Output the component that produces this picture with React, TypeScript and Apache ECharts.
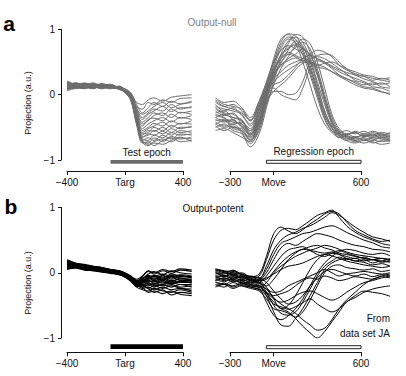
import React, { useEffect, useRef } from "react";
import * as echarts from "echarts";

// ---------- data ----------
const tTest = [-400, -340, -280, -220, -160, -100, -40, 0, 40, 80, 120, 160, 200, 260, 320, 380, 460];
const tMove = [-400, -340, -280, -220, -160, -100, -50, 0, 50, 100, 150, 200, 250, 300, 350, 400, 450, 500, 560, 620, 680, 740, 800];

const testTicks = [-400, 0, 400];
const testTickLabels = ["\u2212400", "Targ", "400"];
const moveTicks = [-300, 0, 600];
const moveTickLabels = ["\u2212300", "Move", "600"];
const yTicks = [-1, 0, 1];
const yTickLabels = ["\u22121", "0", "1"];

const testEpoch = [-100, 400];
const regressionEpoch = [-50, 600];

const nullTest = [
  [0.15, 0.12, 0.16, 0.13, 0.15, 0.12, 0.10, 0.08, 0.02, -0.12, -0.15, -0.08, -0.05, -0.10, -0.04, -0.02, 0.00],
  [0.10, 0.14, 0.11, 0.15, 0.12, 0.14, 0.11, 0.07, 0.00, -0.18, -0.22, -0.12, -0.15, -0.08, -0.12, -0.06, -0.05],
  [0.20, 0.16, 0.18, 0.14, 0.17, 0.13, 0.12, 0.09, 0.03, -0.15, -0.28, -0.20, -0.12, -0.18, -0.10, -0.14, -0.10],
  [0.08, 0.12, 0.09, 0.12, 0.10, 0.15, 0.10, 0.06, -0.02, -0.22, -0.30, -0.25, -0.18, -0.12, -0.20, -0.15, -0.12],
  [0.18, 0.13, 0.15, 0.18, 0.13, 0.11, 0.13, 0.08, 0.01, -0.20, -0.35, -0.28, -0.22, -0.25, -0.15, -0.22, -0.18],
  [0.12, 0.18, 0.13, 0.10, 0.14, 0.16, 0.09, 0.05, -0.03, -0.25, -0.38, -0.30, -0.25, -0.18, -0.26, -0.20, -0.20],
  [0.06, 0.10, 0.14, 0.11, 0.16, 0.12, 0.12, 0.07, 0.00, -0.28, -0.42, -0.35, -0.28, -0.32, -0.22, -0.28, -0.25],
  [0.16, 0.11, 0.10, 0.15, 0.11, 0.14, 0.10, 0.06, -0.01, -0.22, -0.45, -0.40, -0.32, -0.28, -0.35, -0.27, -0.30],
  [0.13, 0.16, 0.12, 0.09, 0.13, 0.10, 0.11, 0.05, -0.04, -0.30, -0.48, -0.38, -0.36, -0.40, -0.30, -0.36, -0.32],
  [0.09, 0.13, 0.17, 0.13, 0.09, 0.13, 0.08, 0.04, -0.05, -0.32, -0.52, -0.45, -0.40, -0.35, -0.42, -0.35, -0.38],
  [0.19, 0.15, 0.12, 0.16, 0.14, 0.10, 0.12, 0.07, -0.02, -0.30, -0.55, -0.50, -0.44, -0.48, -0.40, -0.45, -0.40],
  [0.11, 0.09, 0.13, 0.12, 0.15, 0.13, 0.09, 0.05, -0.06, -0.35, -0.58, -0.52, -0.48, -0.42, -0.50, -0.44, -0.45],
  [0.14, 0.17, 0.14, 0.11, 0.12, 0.15, 0.10, 0.06, -0.03, -0.33, -0.60, -0.58, -0.50, -0.55, -0.47, -0.52, -0.48],
  [0.07, 0.11, 0.10, 0.14, 0.10, 0.11, 0.13, 0.06, -0.05, -0.38, -0.62, -0.55, -0.56, -0.50, -0.58, -0.50, -0.50],
  [0.17, 0.14, 0.16, 0.12, 0.16, 0.12, 0.08, 0.04, -0.07, -0.36, -0.64, -0.62, -0.55, -0.60, -0.52, -0.58, -0.55],
  [0.12, 0.10, 0.11, 0.17, 0.12, 0.09, 0.11, 0.05, -0.04, -0.40, -0.66, -0.60, -0.62, -0.56, -0.62, -0.55, -0.58],
  [0.15, 0.18, 0.13, 0.10, 0.14, 0.13, 0.10, 0.04, -0.06, -0.42, -0.68, -0.70, -0.62, -0.66, -0.58, -0.62, -0.60],
  [0.10, 0.12, 0.15, 0.13, 0.11, 0.14, 0.09, 0.03, -0.08, -0.44, -0.70, -0.66, -0.70, -0.62, -0.68, -0.60, -0.62],
  [0.21, 0.15, 0.12, 0.14, 0.13, 0.11, 0.12, 0.05, -0.05, -0.40, -0.72, -0.74, -0.66, -0.72, -0.64, -0.68, -0.65],
  [0.09, 0.14, 0.12, 0.11, 0.15, 0.12, 0.10, 0.04, -0.07, -0.45, -0.70, -0.76, -0.72, -0.68, -0.72, -0.66, -0.68],
  [0.14, 0.11, 0.17, 0.15, 0.12, 0.10, 0.09, 0.03, -0.09, -0.46, -0.74, -0.72, -0.78, -0.70, -0.66, -0.72, -0.70],
  [0.18, 0.13, 0.10, 0.12, 0.10, 0.13, 0.11, 0.06, -0.06, -0.42, -0.73, -0.78, -0.74, -0.76, -0.70, -0.65, -0.72],
];

const nullMove = [
  [-0.35, -0.40, -0.38, -0.50, -0.60, -0.30, 0.10, 0.50, 0.80, 0.93, 0.90, 0.70, 0.35, 0.00, -0.35, -0.55, -0.62, -0.60, -0.65, -0.62, -0.66, -0.62, -0.65],
  [-0.20, -0.28, -0.30, -0.40, -0.52, -0.20, 0.15, 0.55, 0.85, 0.92, 0.78, 0.50, 0.15, -0.20, -0.45, -0.58, -0.65, -0.62, -0.58, -0.64, -0.60, -0.66, -0.62],
  [-0.45, -0.50, -0.48, -0.58, -0.75, -0.50, -0.10, 0.30, 0.62, 0.82, 0.88, 0.80, 0.55, 0.20, -0.15, -0.45, -0.62, -0.68, -0.64, -0.70, -0.66, -0.68, -0.72],
  [-0.30, -0.35, -0.45, -0.42, -0.65, -0.40, 0.00, 0.40, 0.70, 0.85, 0.80, 0.60, 0.30, -0.05, -0.38, -0.56, -0.60, -0.66, -0.70, -0.65, -0.62, -0.66, -0.64],
  [-0.50, -0.45, -0.55, -0.60, -0.80, -0.60, -0.20, 0.20, 0.55, 0.78, 0.92, 0.88, 0.65, 0.30, -0.05, -0.40, -0.58, -0.66, -0.72, -0.68, -0.74, -0.70, -0.68],
  [-0.15, -0.25, -0.20, -0.32, -0.45, -0.15, 0.20, 0.50, 0.68, 0.75, 0.70, 0.62, 0.40, 0.05, -0.30, -0.52, -0.58, -0.55, -0.60, -0.56, -0.62, -0.58, -0.60],
  [-0.40, -0.38, -0.50, -0.52, -0.70, -0.45, -0.05, 0.35, 0.60, 0.70, 0.78, 0.72, 0.50, 0.15, -0.25, -0.50, -0.64, -0.70, -0.66, -0.62, -0.68, -0.72, -0.70],
  [-0.25, -0.32, -0.28, -0.45, -0.55, -0.25, 0.05, 0.30, 0.50, 0.62, 0.72, 0.80, 0.70, 0.40, 0.00, -0.35, -0.55, -0.62, -0.66, -0.60, -0.64, -0.60, -0.66],
  [-0.55, -0.52, -0.58, -0.65, -0.72, -0.55, -0.15, 0.15, 0.40, 0.58, 0.75, 0.85, 0.78, 0.50, 0.10, -0.30, -0.52, -0.60, -0.58, -0.64, -0.58, -0.62, -0.58],
  [-0.10, -0.18, -0.22, -0.28, -0.40, -0.10, 0.18, 0.40, 0.55, 0.65, 0.60, 0.55, 0.52, 0.30, -0.10, -0.42, -0.60, -0.64, -0.68, -0.66, -0.70, -0.64, -0.68],
  [-0.38, -0.42, -0.40, -0.48, -0.62, -0.35, 0.02, 0.28, 0.45, 0.55, 0.62, 0.70, 0.60, 0.35, -0.05, -0.40, -0.58, -0.70, -0.74, -0.70, -0.72, -0.76, -0.74],
  [-0.48, -0.55, -0.50, -0.55, -0.68, -0.42, -0.05, 0.25, 0.48, 0.68, 0.82, 0.75, 0.45, 0.10, -0.25, -0.48, -0.56, -0.62, -0.56, -0.60, -0.56, -0.60, -0.62],
  [-0.22, -0.30, -0.35, -0.38, -0.58, -0.30, 0.08, 0.45, 0.75, 0.88, 0.85, 0.65, 0.40, 0.05, -0.32, -0.50, -0.66, -0.64, -0.70, -0.74, -0.70, -0.66, -0.70],
  [-0.05, -0.12, -0.10, -0.20, -0.35, -0.10, 0.10, 0.25, 0.35, 0.45, 0.50, 0.55, 0.62, 0.68, 0.65, 0.58, 0.45, 0.38, 0.32, 0.28, 0.25, 0.22, 0.20],
  [-0.28, -0.25, -0.35, -0.40, -0.55, -0.30, 0.00, 0.15, 0.20, 0.30, 0.42, 0.55, 0.60, 0.55, 0.50, 0.42, 0.35, 0.30, 0.25, 0.20, 0.15, 0.18, 0.12],
  [-0.42, -0.48, -0.45, -0.55, -0.65, -0.45, -0.10, 0.05, 0.05, 0.00, 0.02, 0.20, 0.50, 0.58, 0.55, 0.48, 0.40, 0.32, 0.22, 0.18, 0.12, 0.10, 0.05],
  [-0.12, -0.18, -0.15, -0.25, -0.38, -0.18, 0.08, 0.30, 0.45, 0.52, 0.56, 0.52, 0.50, 0.45, 0.48, 0.50, 0.45, 0.40, 0.30, 0.28, 0.22, 0.25, 0.22],
  [-0.32, -0.36, -0.42, -0.45, -0.60, -0.38, -0.05, 0.10, 0.00, -0.05, -0.08, 0.10, 0.40, 0.52, 0.48, 0.40, 0.30, 0.25, 0.18, 0.12, 0.10, 0.05, 0.00],
  [-0.18, -0.22, -0.25, -0.30, -0.48, -0.22, 0.05, 0.35, 0.55, 0.62, 0.58, 0.52, 0.55, 0.60, 0.62, 0.60, 0.50, 0.40, 0.35, 0.30, 0.28, 0.24, 0.26],
  [-0.35, -0.30, -0.38, -0.48, -0.62, -0.40, -0.02, 0.20, 0.30, 0.38, 0.45, 0.50, 0.48, 0.42, 0.40, 0.35, 0.30, 0.24, 0.20, 0.15, 0.18, 0.12, 0.10],
  [-0.08, -0.15, -0.18, -0.22, -0.40, -0.15, 0.12, 0.38, 0.60, 0.72, 0.75, 0.70, 0.62, 0.55, 0.50, 0.44, 0.38, 0.34, 0.30, 0.24, 0.20, 0.16, 0.18],
  [-0.45, -0.40, -0.52, -0.56, -0.70, -0.50, -0.12, 0.05, 0.15, 0.25, 0.38, 0.48, 0.50, 0.46, 0.42, 0.35, 0.28, 0.22, 0.15, 0.10, 0.08, 0.04, 0.02],
];

const potentTest = [
  [0.15, 0.12, 0.10, 0.08, 0.06, 0.04, 0.02, -0.02, -0.06, -0.10, -0.05, 0.02, -0.02, 0.03, -0.01, 0.04, 0.02],
  [0.10, 0.11, 0.07, 0.06, 0.05, 0.02, 0.00, -0.04, -0.08, -0.14, -0.10, -0.04, -0.06, -0.02, -0.06, -0.03, -0.05],
  [0.18, 0.14, 0.12, 0.09, 0.07, 0.05, 0.03, 0.00, -0.05, -0.12, -0.08, -0.06, -0.10, -0.05, -0.08, -0.04, -0.08],
  [0.08, 0.09, 0.06, 0.04, 0.03, 0.01, -0.01, -0.05, -0.10, -0.16, -0.12, -0.08, -0.12, -0.08, -0.12, -0.10, -0.10],
  [0.13, 0.10, 0.11, 0.07, 0.04, 0.03, 0.00, -0.03, -0.08, -0.15, -0.14, -0.10, -0.08, -0.12, -0.06, -0.12, -0.12],
  [0.20, 0.15, 0.12, 0.10, 0.08, 0.05, 0.02, -0.02, -0.07, -0.13, -0.16, -0.12, -0.14, -0.10, -0.14, -0.08, -0.13],
  [0.05, 0.08, 0.05, 0.04, 0.02, 0.00, -0.02, -0.06, -0.11, -0.18, -0.15, -0.14, -0.12, -0.16, -0.12, -0.15, -0.15],
  [0.12, 0.13, 0.09, 0.08, 0.05, 0.03, 0.01, -0.03, -0.09, -0.16, -0.18, -0.16, -0.18, -0.14, -0.17, -0.13, -0.16],
  [0.16, 0.11, 0.10, 0.06, 0.06, 0.02, 0.00, -0.04, -0.10, -0.19, -0.20, -0.15, -0.20, -0.18, -0.15, -0.18, -0.18],
  [0.09, 0.10, 0.08, 0.05, 0.03, 0.02, -0.01, -0.05, -0.12, -0.20, -0.18, -0.20, -0.16, -0.20, -0.18, -0.22, -0.20],
  [0.14, 0.12, 0.11, 0.09, 0.06, 0.04, 0.01, -0.02, -0.08, -0.17, -0.22, -0.18, -0.22, -0.18, -0.22, -0.18, -0.22],
  [0.11, 0.09, 0.07, 0.07, 0.04, 0.01, -0.02, -0.06, -0.12, -0.21, -0.20, -0.24, -0.20, -0.24, -0.20, -0.24, -0.25],
  [0.17, 0.13, 0.11, 0.08, 0.07, 0.04, 0.02, -0.03, -0.09, -0.18, -0.24, -0.22, -0.26, -0.22, -0.26, -0.24, -0.28],
  [0.07, 0.08, 0.06, 0.03, 0.02, 0.00, -0.03, -0.07, -0.13, -0.22, -0.26, -0.28, -0.24, -0.28, -0.30, -0.26, -0.30],
  [0.12, 0.10, 0.09, 0.07, 0.05, 0.03, 0.00, -0.04, -0.11, -0.20, -0.22, -0.30, -0.28, -0.32, -0.28, -0.33, -0.35],
  [0.14, 0.12, 0.10, 0.08, 0.05, 0.02, 0.01, -0.03, -0.08, -0.14, -0.06, 0.03, 0.00, 0.05, 0.02, 0.06, 0.04],
  [0.10, 0.08, 0.08, 0.05, 0.04, 0.02, -0.01, -0.04, -0.09, -0.16, -0.10, -0.02, 0.02, -0.03, 0.03, 0.00, -0.02],
  [0.19, 0.14, 0.13, 0.10, 0.08, 0.05, 0.03, -0.01, -0.06, -0.12, -0.12, -0.06, -0.10, -0.04, -0.10, -0.06, -0.07],
  [0.06, 0.07, 0.04, 0.03, 0.01, -0.01, -0.03, -0.06, -0.12, -0.19, -0.14, -0.10, -0.06, -0.10, -0.04, -0.08, -0.10],
  [0.15, 0.11, 0.10, 0.08, 0.06, 0.03, 0.01, -0.04, -0.10, -0.17, -0.19, -0.24, -0.30, -0.26, -0.34, -0.30, -0.32],
  [0.11, 0.12, 0.09, 0.06, 0.04, 0.02, -0.02, -0.05, -0.10, -0.18, -0.16, -0.12, -0.16, -0.12, -0.16, -0.14, -0.14],
  [0.13, 0.09, 0.08, 0.07, 0.03, 0.01, 0.00, -0.03, -0.08, -0.15, -0.13, -0.08, -0.04, -0.08, -0.02, -0.05, -0.06],
];

const potentMove = [
  [0.00, -0.05, 0.02, -0.04, -0.08, -0.05, 0.20, 0.50, 0.65, 0.68, 0.66, 0.72, 0.80, 0.88, 0.92, 0.96, 0.85, 0.72, 0.62, 0.55, 0.50, 0.45, 0.42],
  [0.05, 0.02, -0.03, 0.00, -0.06, -0.02, 0.25, 0.60, 0.70, 0.64, 0.60, 0.66, 0.75, 0.82, 0.90, 0.94, 0.90, 0.78, 0.65, 0.58, 0.52, 0.48, 0.50],
  [-0.08, -0.04, -0.10, -0.06, -0.12, -0.10, 0.10, 0.35, 0.50, 0.58, 0.62, 0.68, 0.72, 0.78, 0.85, 0.92, 0.88, 0.80, 0.70, 0.62, 0.55, 0.52, 0.48],
  [0.02, -0.06, 0.00, -0.08, -0.05, -0.08, 0.05, 0.28, 0.45, 0.50, 0.55, 0.60, 0.62, 0.66, 0.70, 0.72, 0.68, 0.62, 0.56, 0.50, 0.46, 0.40, 0.38],
  [-0.12, -0.08, -0.14, -0.10, -0.15, -0.12, 0.00, 0.20, 0.38, 0.45, 0.42, 0.48, 0.55, 0.60, 0.58, 0.55, 0.50, 0.46, 0.42, 0.40, 0.36, 0.35, 0.32],
  [-0.05, -0.10, -0.06, -0.12, -0.10, -0.15, -0.05, 0.10, 0.25, 0.35, 0.38, 0.40, 0.35, 0.38, 0.42, 0.40, 0.36, 0.32, 0.28, 0.26, 0.24, 0.22, 0.20],
  [0.06, 0.03, 0.00, -0.02, -0.08, -0.12, -0.10, 0.02, 0.15, 0.25, 0.32, 0.36, 0.40, 0.42, 0.38, 0.35, 0.30, 0.28, 0.25, 0.22, 0.20, 0.18, 0.22],
  [-0.15, -0.18, -0.12, -0.16, -0.20, -0.22, -0.15, 0.00, 0.10, 0.18, 0.25, 0.30, 0.34, 0.32, 0.30, 0.32, 0.28, 0.22, 0.18, 0.16, 0.12, 0.14, 0.10],
  [-0.02, 0.00, -0.05, -0.06, -0.12, -0.15, -0.20, -0.10, 0.05, 0.20, 0.30, 0.36, 0.34, 0.28, 0.25, 0.30, 0.34, 0.30, 0.26, 0.22, 0.20, 0.22, 0.18],
  [0.03, -0.02, 0.04, -0.03, -0.06, -0.10, -0.08, -0.02, 0.05, 0.10, 0.12, 0.15, 0.20, 0.25, 0.28, 0.26, 0.22, 0.18, 0.15, 0.12, 0.10, 0.08, 0.10],
  [-0.10, -0.14, -0.08, -0.12, -0.18, -0.20, -0.25, -0.30, -0.28, -0.20, -0.15, -0.10, -0.05, 0.00, 0.05, 0.00, -0.05, -0.02, 0.00, 0.02, 0.00, -0.02, 0.00],
  [-0.20, -0.16, -0.22, -0.18, -0.22, -0.25, -0.30, -0.35, -0.32, -0.28, -0.20, -0.12, -0.08, -0.10, -0.05, -0.08, -0.12, -0.10, -0.06, -0.08, -0.10, -0.06, -0.08],
  [-0.06, -0.10, -0.04, -0.10, -0.14, -0.18, -0.35, -0.60, -0.80, -0.82, -0.70, -0.55, -0.35, -0.15, 0.05, 0.15, 0.20, 0.22, 0.18, 0.20, 0.15, 0.18, 0.16],
  [0.04, 0.00, -0.02, -0.08, -0.10, -0.14, -0.30, -0.50, -0.62, -0.65, -0.60, -0.45, -0.25, -0.05, 0.10, 0.18, 0.24, 0.20, 0.22, 0.18, 0.20, 0.16, 0.18],
  [-0.18, -0.22, -0.15, -0.20, -0.24, -0.28, -0.40, -0.55, -0.58, -0.62, -0.68, -0.60, -0.42, -0.20, 0.00, 0.10, 0.12, 0.08, 0.06, 0.04, 0.06, 0.02, 0.04],
  [-0.08, -0.12, -0.10, -0.14, -0.16, -0.20, -0.32, -0.45, -0.55, -0.60, -0.70, -0.82, -0.92, -1.00, -0.90, -0.75, -0.60, -0.45, -0.38, -0.30, -0.25, -0.22, -0.20],
  [0.00, -0.04, -0.08, -0.06, -0.12, -0.16, -0.25, -0.38, -0.48, -0.55, -0.62, -0.72, -0.80, -0.88, -0.85, -0.72, -0.55, -0.42, -0.30, -0.18, -0.10, -0.05, -0.02],
  [-0.12, -0.08, -0.12, -0.15, -0.20, -0.22, -0.30, -0.40, -0.45, -0.42, -0.35, -0.30, -0.28, -0.32, -0.38, -0.42, -0.38, -0.30, -0.22, -0.15, -0.12, -0.08, -0.05],
  [-0.04, -0.06, -0.02, -0.05, -0.10, -0.12, -0.22, -0.40, -0.55, -0.50, -0.35, -0.15, 0.05, 0.20, 0.28, 0.30, 0.28, 0.25, 0.22, 0.24, 0.20, 0.22, 0.20],
  [0.05, 0.02, 0.03, -0.02, -0.06, -0.08, -0.15, -0.28, -0.40, -0.48, -0.45, -0.35, -0.20, -0.08, 0.02, 0.05, 0.02, -0.02, -0.05, -0.02, -0.06, -0.03, -0.05],
  [-0.14, -0.18, -0.20, -0.16, -0.18, -0.24, -0.45, -0.65, -0.72, -0.66, -0.55, -0.40, -0.20, 0.00, 0.15, 0.25, 0.32, 0.36, 0.34, 0.30, 0.28, 0.30, 0.26],
  [-0.22, -0.18, -0.24, -0.20, -0.22, -0.26, -0.35, -0.48, -0.52, -0.56, -0.52, -0.46, -0.40, -0.48, -0.55, -0.60, -0.55, -0.45, -0.35, -0.28, -0.30, -0.32, -0.36],
];

// ---------- styling ----------
const FONT = '"Liberation Sans", Arial, Helvetica, sans-serif';
const GREY = "#6c6c6c";
const INK = "#111";

function traces(lines: number[][], times: number[], axisIndex: number, color: string, width: number) {
  return lines.map((vals) => ({
    type: "line",
    xAxisIndex: axisIndex,
    yAxisIndex: axisIndex,
    data: vals.map((v, j) => [times[j], v]),
    showSymbol: false,
    smooth: 0.35,
    silent: true,
    lineStyle: { color, width },
  }));
}

function tickFormatter(ticks: number[], labels: string[]) {
  return (v: number) => {
    const i = ticks.indexOf(v);
    return i >= 0 ? labels[i] : "";
  };
}

function dataXAxis(gridIndex: number, min: number, max: number) {
  return { type: "value", gridIndex, min, max, show: false };
}

function tickXAxis(gridIndex: number, ticks: number[], labels: string[]) {
  return {
    type: "value",
    gridIndex,
    min: ticks[0],
    max: ticks[ticks.length - 1],
    position: "bottom",
    axisLine: { show: true, onZero: false, lineStyle: { color: INK, width: 1 } },
    axisTick: { show: true, length: 4, customValues: ticks, lineStyle: { color: INK, width: 1 } },
    axisLabel: {
      show: true,
      customValues: ticks,
      formatter: tickFormatter(ticks, labels),
      fontSize: 10,
      color: INK,
      margin: 6,
      fontFamily: FONT,
    },
    splitLine: { show: false },
  };
}

function valueYAxis(gridIndex: number, visible: boolean) {
  if (!visible) return { type: "value", gridIndex, min: -1, max: 1, show: false };
  return {
    type: "value",
    gridIndex,
    min: -1,
    max: 1,
    interval: 1,
    offset: 6,
    axisLine: { show: true, onZero: false, lineStyle: { color: INK, width: 1 } },
    axisTick: { show: true, length: 3, lineStyle: { color: INK, width: 1 } },
    axisLabel: {
      show: true,
      formatter: tickFormatter(yTicks, yTickLabels),
      fontSize: 10,
      color: INK,
      margin: 6,
      fontFamily: FONT,
    },
    splitLine: { show: false },
  };
}

function epochSeries(axisIndex: number, epoch: number[], yTop: number, yBottom: number, itemStyle: any, label?: string) {
  return {
    type: "line",
    xAxisIndex: axisIndex,
    yAxisIndex: axisIndex,
    data: [[epoch[0], 0.5]],
    showSymbol: false,
    silent: true,
    lineStyle: { opacity: 0 },
    markArea: {
      silent: true,
      itemStyle,
      label: label
        ? { show: true, position: "top", distance: 3, formatter: label, fontSize: 10, color: INK, fontFamily: FONT }
        : { show: false },
      data: [[{ xAxis: epoch[0], yAxis: yTop }, { xAxis: epoch[1], yAxis: yBottom }]],
    },
  };
}

function buildOption() {
  const hollow = { color: "#fff", borderColor: "#222", borderWidth: 1 };
  return {
    animation: false,
    backgroundColor: "#fff",
    textStyle: { fontFamily: FONT },
    grid: [
      { left: 67, top: 29.3, width: 124.7, height: 130.7 },
      { left: 215.5, top: 29.3, width: 174.6, height: 130.7 },
      { left: 67, top: 207.5, width: 124.7, height: 130.5 },
      { left: 215.5, top: 207.5, width: 174.6, height: 130.5 },
      { left: 67, top: 160, width: 116, height: 11 },
      { left: 230, top: 160, width: 131, height: 11 },
      { left: 67, top: 344, width: 116, height: 8.3 },
      { left: 230, top: 344, width: 131, height: 8.3 },
    ],
    xAxis: [
      dataXAxis(0, -400, 460),
      dataXAxis(1, -400, 800),
      dataXAxis(2, -400, 460),
      dataXAxis(3, -400, 800),
      tickXAxis(4, testTicks, testTickLabels),
      tickXAxis(5, moveTicks, moveTickLabels),
      tickXAxis(6, testTicks, testTickLabels),
      tickXAxis(7, moveTicks, moveTickLabels),
    ],
    yAxis: [
      valueYAxis(0, true),
      valueYAxis(1, false),
      valueYAxis(2, true),
      valueYAxis(3, false),
      { type: "value", gridIndex: 4, min: 0, max: 1, show: false },
      { type: "value", gridIndex: 5, min: 0, max: 1, show: false },
      { type: "value", gridIndex: 6, min: 0, max: 1, show: false },
      { type: "value", gridIndex: 7, min: 0, max: 1, show: false },
    ],
    series: [
      ...traces(nullTest, tTest, 0, GREY, 1),
      ...traces(nullMove, tMove, 1, GREY, 1),
      ...traces(potentTest, tTest, 2, "#000", 1.1),
      ...traces(potentMove, tMove, 3, "#000", 1),
      epochSeries(4, testEpoch, 1, 0.664, { color: GREY }, "Test epoch"),
      epochSeries(5, regressionEpoch, 0.973, 0.7, hollow, "Regression epoch"),
      epochSeries(6, testEpoch, 0.964, 0.398, { color: "#000" }),
      epochSeries(7, regressionEpoch, 0.795, 0.434, hollow),
    ],
    graphic: [
      { type: "text", x: 9, y: 23, style: { text: "a", font: `bold 21px ${FONT}`, fill: "#000", align: "center", verticalAlign: "middle" } },
      { type: "text", x: 11, y: 206, style: { text: "b", font: `bold 21px ${FONT}`, fill: "#000", align: "center", verticalAlign: "middle" } },
      { type: "text", x: 212, y: 22, style: { text: "Output-null", font: `10px ${FONT}`, fill: "#808080", align: "center", verticalAlign: "middle" } },
      { type: "text", x: 213, y: 208, style: { text: "Output-potent", font: `10px ${FONT}`, fill: INK, align: "center", verticalAlign: "middle" } },
      { type: "text", x: 390, y: 318, style: { text: "From", font: `10px ${FONT}`, fill: INK, align: "right", verticalAlign: "middle" } },
      { type: "text", x: 390, y: 333, style: { text: "data set JA", font: `10px ${FONT}`, fill: INK, align: "right", verticalAlign: "middle" } },
      { type: "text", x: 28, y: 103, rotation: Math.PI / 2, style: { text: "Projection (a.u.)", font: `9px ${FONT}`, fill: INK, align: "center", verticalAlign: "middle" } },
      { type: "text", x: 28, y: 283, rotation: Math.PI / 2, style: { text: "Projection (a.u.)", font: `9px ${FONT}`, fill: INK, align: "center", verticalAlign: "middle" } },
    ],
  };
}

export default function App() {
  const ref = useRef<HTMLDivElement>(null);
  useEffect(() => {
    if (!ref.current) return;
    const chart = echarts.init(ref.current, null, { renderer: "svg" });
    chart.setOption(buildOption() as any);
    return () => chart.dispose();
  }, []);
  return <div ref={ref} style={{ position: "fixed", left: 0, top: 0, width: 406, height: 376, background: "#fff" }} />;
}
